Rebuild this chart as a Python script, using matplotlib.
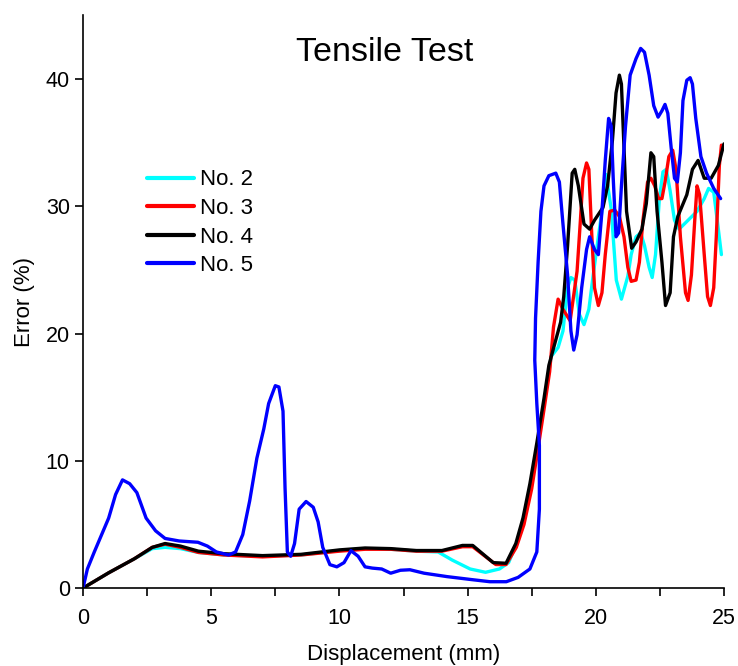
import matplotlib
matplotlib.use("Agg")
import matplotlib.pyplot as plt
from matplotlib.ticker import MultipleLocator

plt.rcParams['font.family'] = ['Liberation Sans', 'DejaVu Sans']

# ---- data ----
no2_x = [0, 1, 2, 2.7, 3.2, 3.8, 4.5, 5.5, 7, 8.5, 10, 11, 12, 13, 13.85, 14.4, 15.1, 15.7, 16.24,
         16.6, 16.97, 17.34, 17.7, 17.98, 18.26, 18.53, 18.72, 18.9, 19.03, 19.18, 19.36, 19.54,
         19.73, 19.9, 20.1, 20.28, 20.4, 20.6, 20.8, 21.0, 21.25, 21.38, 21.57, 21.75, 21.9, 22.08,
         22.2, 22.33, 22.48, 22.62, 22.75, 22.9, 23.07, 23.25, 23.6, 23.95, 24.23, 24.4, 24.6,
         24.78, 24.9]
no2_y = [0, 1.2, 2.3, 3.1, 3.2, 3.1, 2.8, 2.6, 2.5, 2.6, 2.95, 3.1, 3.05, 2.9, 2.84, 2.2, 1.5, 1.24,
         1.5, 2.0, 3.8, 6.8, 10.9, 14.5, 18.2, 18.9, 20.2, 23.6, 24.4, 24.2, 21.5, 20.7, 21.9, 24.6,
         27.6, 30.2, 32.5, 29.8, 24.2, 22.7, 24.5, 26.2, 27.6, 27.9, 26.9, 25.2, 24.4, 26.2, 30.6,
         32.7, 32.9, 31.2, 28.9, 28.2, 28.9, 29.6, 30.6, 31.4, 31.1, 28.2, 26.2]

no3_x = [0, 1, 2, 2.7, 3.2, 3.8, 4.5, 5.5, 7, 8.5, 10, 11, 12, 13, 14, 14.8, 15.2, 16.1, 16.5, 16.9,
         17.2, 17.5, 17.75, 18.0, 18.2, 18.35, 18.53, 18.72, 19.0, 19.27, 19.4, 19.5, 19.64, 19.73,
         19.84, 19.95, 20.1, 20.24, 20.37, 20.55, 20.74, 20.92, 21.1, 21.25, 21.38, 21.57, 21.7,
         21.84, 22.02, 22.15, 22.3, 22.45, 22.58, 22.7, 22.85, 23.0, 23.13, 23.3, 23.5, 23.6, 23.73,
         23.86, 23.95, 24.05, 24.23, 24.36, 24.47, 24.6, 24.7, 24.82, 24.9]
no3_y = [0, 1.2, 2.3, 3.2, 3.45, 3.2, 2.8, 2.6, 2.45, 2.6, 2.9, 3.05, 3.05, 2.9, 2.9, 3.25, 3.25,
         1.85, 1.85, 3.2, 5.0, 7.8, 11.0, 14.3, 17.0, 20.5, 22.7, 21.9, 21.0, 24.9, 28.9, 32.2, 33.4,
         32.9, 27.9, 23.6, 22.2, 23.2, 26.2, 29.6, 29.7, 29.2, 27.6, 25.2, 24.1, 24.2, 25.6, 28.9,
         31.9, 32.2, 31.6, 30.6, 30.6, 31.9, 33.9, 34.4, 32.9, 27.6, 23.2, 22.6, 24.6, 28.9, 31.6,
         30.9, 26.2, 22.9, 22.2, 23.6, 27.6, 33.2, 34.8]

no4_x = [0, 1, 2, 2.7, 3.2, 3.8, 4.5, 5.5, 7, 8.5, 10, 11, 12, 13, 14, 14.8, 15.2, 16.0, 16.5, 16.88,
         17.16, 17.43, 17.7, 17.98, 18.17, 18.44, 18.63, 18.75, 18.9, 19.08, 19.18, 19.32, 19.54,
         19.76, 19.95, 20.28, 20.46, 20.65, 20.79, 20.92, 21.0, 21.1, 21.2, 21.4, 21.57, 21.8, 21.97,
         22.15, 22.26, 22.39, 22.58, 22.72, 22.9, 23.03, 23.2, 23.55, 23.77, 23.99, 24.23, 24.5,
         24.78, 25.0]
no4_y = [0, 1.2, 2.3, 3.2, 3.5, 3.3, 2.9, 2.7, 2.55, 2.65, 3.0, 3.15, 3.1, 2.95, 2.95, 3.35, 3.35,
         2.0, 1.95, 3.5, 5.5, 8.2, 11.4, 14.9, 17.5, 19.5, 20.9, 22.9, 26.9, 32.6, 32.9, 31.6, 28.6,
         28.2, 28.9, 29.9, 31.6, 35.2, 38.9, 40.3, 39.6, 34.6, 29.6, 26.7, 27.2, 28.2, 30.2, 34.2,
         33.9, 29.6, 25.6, 22.2, 23.2, 27.6, 29.2, 30.9, 32.9, 33.6, 32.2, 32.2, 33.2, 34.9]

no5_x = [0, 0.17, 0.44, 1.0, 1.27, 1.54, 1.82, 2.1, 2.46, 2.83, 3.2, 3.75, 4.48, 4.85, 5.2, 5.68,
         5.95, 6.23, 6.5, 6.78, 7.05, 7.24, 7.5, 7.64, 7.8, 7.88, 7.97, 8.1, 8.25, 8.43, 8.7, 8.98,
         9.17, 9.35, 9.63, 9.9, 10.18, 10.45, 10.73, 11.0, 11.28, 11.65, 12.0, 12.38, 12.75, 13.3,
         14.2, 15.14, 15.87, 16.51, 16.97, 17.43, 17.7, 17.8, 17.8, 17.7, 17.62, 17.65, 17.75, 17.86,
         17.98, 18.17, 18.44, 18.58, 18.72, 18.9, 19.03, 19.14, 19.27, 19.45, 19.64, 19.76, 19.95,
         20.1, 20.24, 20.37, 20.5, 20.6, 20.68, 20.79, 20.89, 21.0, 21.16, 21.34, 21.57, 21.75, 21.9,
         22.08, 22.26, 22.43, 22.58, 22.7, 22.81, 22.94, 23.07, 23.18, 23.3, 23.4, 23.55, 23.68,
         23.77, 23.9, 24.1, 24.32, 24.6, 24.87]
no5_y = [0, 1.5, 2.84, 5.5, 7.35, 8.5, 8.2, 7.5, 5.5, 4.5, 3.9, 3.7, 3.6, 3.3, 2.84, 2.6, 2.84, 4.2,
         6.85, 10.2, 12.5, 14.5, 15.9, 15.8, 13.9, 7.85, 2.84, 2.5, 3.5, 6.2, 6.8, 6.35, 5.2, 3.2,
         1.84, 1.67, 2.0, 2.94, 2.5, 1.67, 1.57, 1.5, 1.17, 1.4, 1.44, 1.17, 0.9, 0.67, 0.5, 0.5,
         0.84, 1.5, 2.84, 6.2, 11.2, 14.5, 17.9, 21.2, 25.6, 29.6, 31.6, 32.4, 32.6, 31.9, 28.6,
         24.6, 20.2, 18.7, 19.9, 23.6, 26.6, 27.6, 26.6, 26.2, 29.6, 33.6, 36.9, 36.3, 32.2, 27.6,
         27.9, 31.6, 36.3, 40.3, 41.6, 42.4, 42.1, 40.3, 37.9, 37.0, 37.5, 38.0, 37.3, 34.6, 32.2,
         31.9, 34.2, 38.3, 39.9, 40.1, 39.6, 36.9, 33.9, 32.6, 31.4, 30.6]

series = [("No. 2", no2_x, no2_y, "#00FFFF"),
          ("No. 3", no3_x, no3_y, "#FF0000"),
          ("No. 4", no4_x, no4_y, "#000000"),
          ("No. 5", no5_x, no5_y, "#0000FF")]

fig = plt.figure(figsize=(7.38, 6.66), dpi=100)
ax = fig.add_axes([0.1125, 0.117, 0.8685, 0.86])

for name, xs, ys, c in series:
    ax.plot(xs, ys, color=c, lw=2.4, label=name, solid_joinstyle='round', solid_capstyle='round')

ax.set_xlim(0, 25)
ax.set_ylim(0, 45)
ax.xaxis.set_major_locator(MultipleLocator(5))
ax.xaxis.set_minor_locator(MultipleLocator(2.5))
ax.yaxis.set_major_locator(MultipleLocator(10))
for s in ("top", "right"):
    ax.spines[s].set_visible(False)
for s in ("left", "bottom"):
    ax.spines[s].set_linewidth(1.2)
ax.tick_params(axis='both', which='both', direction='out', length=6, width=1.2,
               labelsize=15.5, colors='black')
ax.tick_params(axis='x', pad=8)
ax.set_xlabel("Displacement (mm)", fontsize=16, labelpad=11)
ax.set_ylabel("Error (%)", fontsize=16, labelpad=8)

ax.text(0.47, 0.935, "Tensile Test", transform=ax.transAxes, ha='center', va='center', fontsize=24.5)

leg = ax.legend(loc='upper left', bbox_to_anchor=(0.1, 0.731), frameon=False, fontsize=16,
                handlelength=2.1, handletextpad=0.3, labelspacing=0.34, borderpad=0,
                borderaxespad=0)
for ln in leg.get_lines():
    ln.set_linewidth(3)

fig.savefig("out.png", dpi=100)
